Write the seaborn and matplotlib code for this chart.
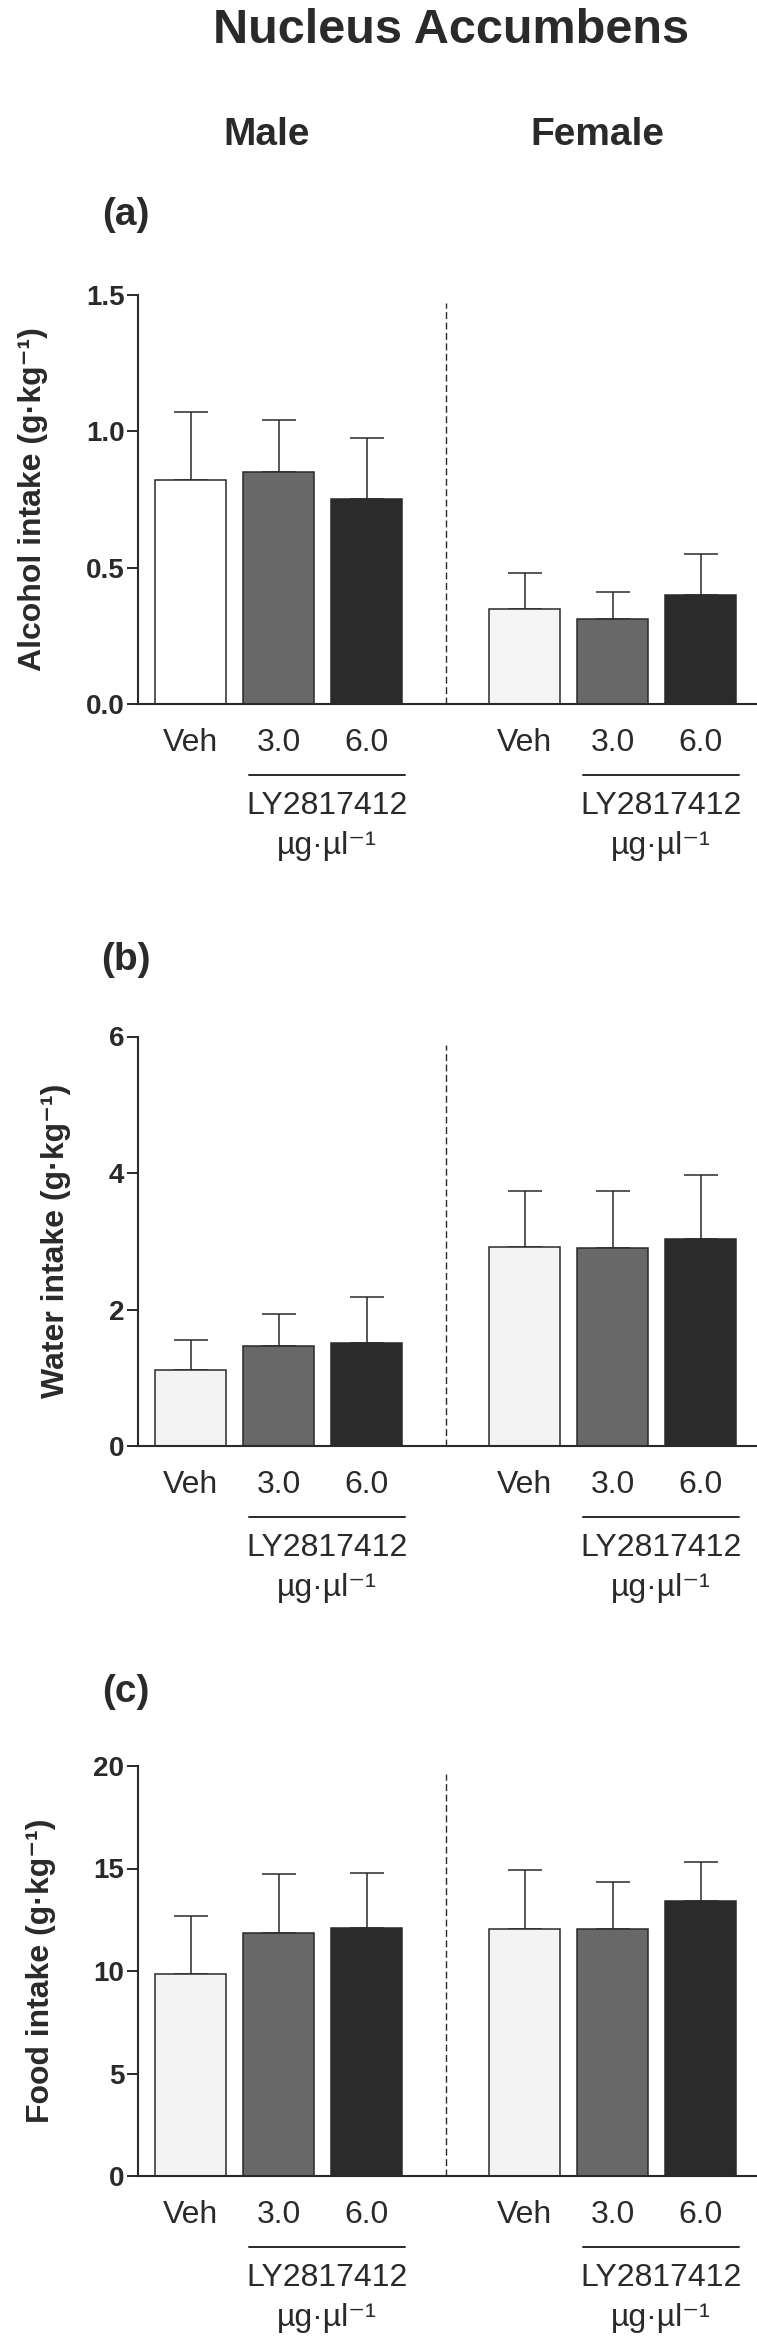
import numpy as np
import pandas as pd
import matplotlib
matplotlib.use('Agg')
import matplotlib.pyplot as plt
import seaborn as sns

sns.set_style('white')
plt.rcParams['font.family'] = ['Liberation Sans', 'DejaVu Sans']

# data (mean and SEM)
groups = ['Veh', '3.0', '6.0', 'Veh', '3.0', '6.0']
positions = [0, 1, 2, 3.8, 4.8, 5.8]

alcohol_mean = [0.82, 0.85, 0.75, 0.35, 0.31, 0.40]
alcohol_sem = [0.25, 0.19, 0.225, 0.13, 0.10, 0.15]
water_mean = [1.12, 1.47, 1.51, 2.92, 2.90, 3.03]
water_sem = [0.44, 0.47, 0.68, 0.81, 0.84, 0.94]
food_mean = [9.87, 11.87, 12.08, 12.03, 12.06, 13.41]
food_sem = [2.81, 2.87, 2.71, 2.89, 2.27, 1.90]

alcohol_ticks = [0.0, 0.5, 1.0, 1.5]
water_ticks = [0, 2, 4, 6]
food_ticks = [0, 5, 10, 15, 20]

drug_name = 'LY2817412'
dose_unit = 'µg·µl⁻¹'

INK = '#2a2a2a'
colors_a = ['#ffffff', '#686868', '#2b2b2b', '#f5f5f5', '#686868', '#2b2b2b']
colors_bc = ['#f3f3f3', '#686868', '#2b2b2b', '#f3f3f3', '#686868', '#2b2b2b']

W, H = 757, 2338
fig = plt.figure(figsize=(W / 100, H / 100), dpi=100)

panels = [
    # letter, ylabel, mean, sem, ticks, ticklabels, colors, axis top px, axis bottom px, letter baseline px
    ('(a)', 'Alcohol intake (g·kg⁻¹)', alcohol_mean, alcohol_sem, alcohol_ticks,
     ['0.0', '0.5', '1.0', '1.5'], colors_a, 295, 704, 225),
    ('(b)', 'Water intake (g·kg⁻¹)', water_mean, water_sem, water_ticks,
     ['0', '2', '4', '6'], colors_bc, 1036.5, 1446, 970),
    ('(c)', 'Food intake (g·kg⁻¹)', food_mean, food_sem, food_ticks,
     ['0', '5', '10', '15', '20'], colors_bc, 1766, 2176, 1702),
]

left_px = 137.6
for letter, ylabel, mean, sem, ticks, ticklabels, cols, top_px, bot_px, let_px in panels:
    ax_h = bot_px - top_px
    ax = fig.add_axes([left_px / W, 1 - bot_px / H, 1 - left_px / W, ax_h / H])
    df = pd.DataFrame({'pos': positions, 'value': mean})
    sns.barplot(data=df, x='pos', y='value', native_scale=True, width=0.81,
                errorbar=None, color='white', saturation=1,
                edgecolor=INK, linewidth=1.1, ax=ax)
    for patch, c in zip(ax.patches, cols):
        patch.set_facecolor(c)
    ax.errorbar(positions, mean, yerr=[np.zeros(len(mean)), sem], fmt='none',
                ecolor=INK, elinewidth=1.1, capsize=12.5, capthick=1.1, zorder=0.9)

    ymax = ticks[-1]
    ax.set_ylim(0, ymax)
    ax.set_xlim(-0.605, 6.44)
    mid = (positions[2] + positions[3]) / 2
    ax.vlines(mid, 0, 0.98 * ymax, colors=INK, linewidth=1.0, linestyles=(0, (5, 2.5)))

    sns.despine(ax=ax)
    for s in ['left', 'bottom']:
        ax.spines[s].set_linewidth(1.5)
        ax.spines[s].set_color(INK)

    ax.set_yticks(ticks, ticklabels, fontweight='bold', fontsize=20, color=INK)
    ax.tick_params(axis='y', left=True, length=8, width=1.4, pad=1.5, color=INK)
    ax.set_xticks(positions, groups, fontsize=23, color=INK)
    ax.tick_params(axis='x', length=0, pad=17)
    ax.set_xlabel('')
    ax.set_ylabel(ylabel, fontsize=23, fontweight='bold', labelpad=27, color=INK)

    # dose bracket under 3.0 / 6.0 for each sex
    trans = ax.get_xaxis_transform()
    for i, j in [(1, 2), (4, 5)]:
        x1, x2 = positions[i] - 0.34, positions[j] + 0.44
        ax.plot([x1, x2], [-71 / ax_h] * 2, color=INK, linewidth=1.4,
                transform=trans, clip_on=False)
        xc = (x1 + x2) / 2
        ax.text(xc, -110.5 / ax_h, drug_name, transform=trans, ha='center',
                va='baseline', fontsize=23, color=INK)
        ax.text(xc, -150 / ax_h, dose_unit, transform=trans, ha='center',
                va='baseline', fontsize=23, color=INK)

    fig.text(126 / W, 1 - let_px / H, letter, ha='center', va='baseline',
             fontsize=28, fontweight='bold', color=INK)

fig.text(451 / W, 1 - 43 / H, 'Nucleus Accumbens', ha='center', va='baseline',
         fontsize=35, fontweight='bold', color=INK)
fig.text(266.5 / W, 1 - 145 / H, 'Male', ha='center', va='baseline',
         fontsize=28, fontweight='bold', color=INK)
fig.text(597.5 / W, 1 - 145 / H, 'Female', ha='center', va='baseline',
         fontsize=28, fontweight='bold', color=INK)

fig.savefig('out.png', dpi=100)
